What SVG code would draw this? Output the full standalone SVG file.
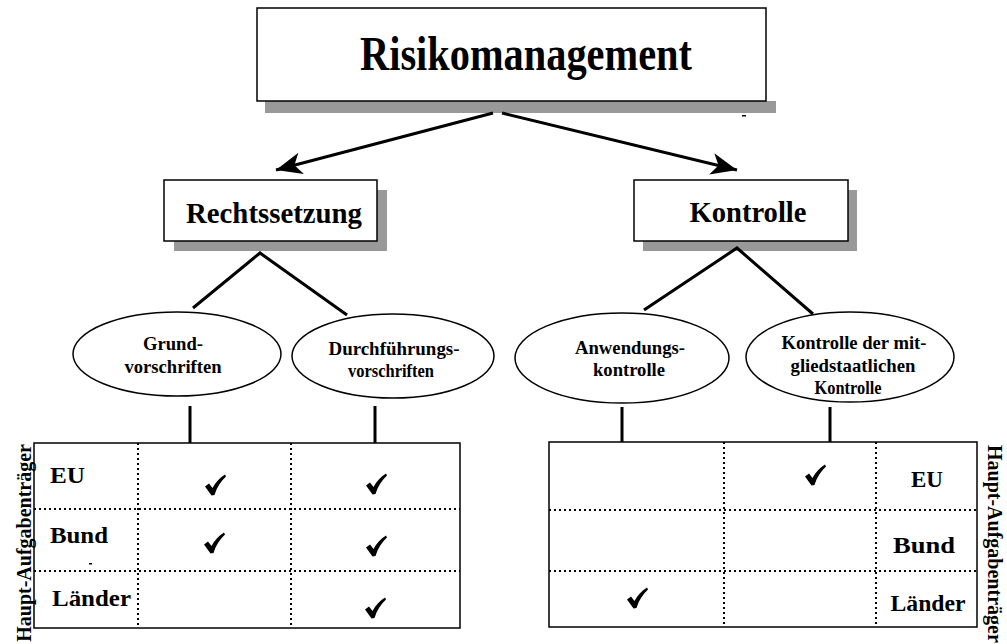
<svg xmlns="http://www.w3.org/2000/svg" width="1007" height="644" viewBox="0 0 1007 644">
  <style>
    .box { fill: #ffffff; stroke: #000000; stroke-width: 1.5; }
    .shadow { fill: #999999; }
    .oval { fill: #ffffff; stroke: #000000; stroke-width: 1.5; }
    .edge { stroke: #000000; stroke-width: 3; fill: none; }
    .grid { fill: #ffffff; stroke: #000000; stroke-width: 1.5; }
    .dots { stroke: #000000; stroke-width: 2; stroke-dasharray: 2 3; fill: none; }
    text { font-family: "Liberation Serif", "Times New Roman", serif; font-weight: bold; fill: #000000; }
    .title { font-size: 48px; text-anchor: middle; }
    .head { font-size: 29px; text-anchor: middle; }
    .small { font-size: 19.5px; text-anchor: middle; }
    .row { font-size: 23px; }
    .side { font-size: 20px; }
  </style>
  <defs>
    <marker id="arrow" markerWidth="28" markerHeight="24" refX="26" refY="12" orient="auto" markerUnits="userSpaceOnUse">
      <path d="M0,1 L26,12 L0,23 L7,12 Z" fill="#000000"/>
    </marker>
    <!-- bold check mark used in the tables -->
    <path id="tick" d="M0,11.5 L4,8.5 L7.5,13 C10.5,7.5 14.5,3 20,-0.5 L21,1.5 C16,6 12,12 9.5,20 L6.5,20.5 Z" fill="#000000"/>
  </defs>

  <!-- top node -->
  <g id="risikomanagement">
    <rect class="shadow" x="265" y="101" width="511" height="12"/>
    <rect class="box" x="257" y="8" width="509" height="93"/>
    <text class="title" x="526" y="70" textLength="332" lengthAdjust="spacingAndGlyphs">Risikomanagement</text>
    <rect x="742" y="115" width="4" height="1.5" fill="#000000"/>
  </g>

  <!-- second level -->
  <g id="rechtssetzung">
    <rect class="shadow" x="174" y="190" width="213" height="61"/>
    <rect class="box" x="164" y="180" width="213" height="61"/>
    <text class="head" x="274" y="223" textLength="176" lengthAdjust="spacingAndGlyphs">Rechtssetzung</text>
  </g>
  <g id="kontrolle">
    <rect class="shadow" x="643" y="190" width="214" height="61"/>
    <rect class="box" x="634" y="180" width="214" height="61"/>
    <text class="head" x="748" y="222" textLength="117" lengthAdjust="spacingAndGlyphs">Kontrolle</text>
  </g>

  <!-- ellipses -->
  <g id="grundvorschriften">
    <ellipse class="oval" cx="177" cy="354" rx="104" ry="42"/>
    <text class="small" x="173" y="350" textLength="60" lengthAdjust="spacingAndGlyphs">Grund-</text>
    <text class="small" x="173" y="373" textLength="97" lengthAdjust="spacingAndGlyphs">vorschriften</text>
  </g>
  <g id="durchfuehrungsvorschriften">
    <ellipse class="oval" cx="393" cy="356" rx="101" ry="42"/>
    <text class="small" x="394" y="355" textLength="131" lengthAdjust="spacingAndGlyphs">Durchführungs-</text>
    <text class="small" x="391" y="377" textLength="86" lengthAdjust="spacingAndGlyphs">vorschriften</text>
  </g>
  <g id="anwendungskontrolle">
    <ellipse class="oval" cx="622" cy="358" rx="107" ry="45"/>
    <text class="small" x="630" y="354" textLength="110" lengthAdjust="spacingAndGlyphs">Anwendungs-</text>
    <text class="small" x="629" y="376" textLength="72" lengthAdjust="spacingAndGlyphs">kontrolle</text>
  </g>
  <g id="kontrolle-mitgliedstaatlich">
    <ellipse class="oval" cx="850" cy="357" rx="104" ry="45"/>
    <text class="small" x="854" y="349" textLength="145" lengthAdjust="spacingAndGlyphs">Kontrolle der mit-</text>
    <text class="small" x="853" y="372" textLength="125" lengthAdjust="spacingAndGlyphs">gliedstaatlichen</text>
    <text class="small" x="848" y="394" textLength="67" lengthAdjust="spacingAndGlyphs">Kontrolle</text>
  </g>

  <!-- connectors -->
  <g id="connectors">
    <line class="edge" x1="493" y1="113" x2="276" y2="170" marker-end="url(#arrow)"/>
    <line class="edge" x1="502" y1="113" x2="737" y2="170" marker-end="url(#arrow)"/>
    <polyline class="edge" points="193,308 260,253 347,315"/>
    <polyline class="edge" points="644,310 737,248 813,314"/>
    <line class="edge" x1="190" y1="406" x2="190" y2="443"/>
    <line class="edge" x1="375" y1="406" x2="375" y2="443"/>
    <line class="edge" x1="622" y1="407" x2="622" y2="442"/>
    <line class="edge" x1="830" y1="407" x2="830" y2="442"/>
  </g>

  <!-- left responsibility table -->
  <g id="table-rechtssetzung">
    <rect class="grid" x="34" y="443" width="426" height="185"/>
    <line class="dots" x1="34" y1="509" x2="460" y2="509"/>
    <line class="dots" x1="34" y1="571" x2="460" y2="571"/>
    <line class="dots" x1="138" y1="443" x2="138" y2="628"/>
    <line class="dots" x1="291" y1="443" x2="291" y2="628"/>
    <text class="row" x="50" y="483" textLength="35" lengthAdjust="spacingAndGlyphs">EU</text>
    <text class="row" x="50" y="543" textLength="58" lengthAdjust="spacingAndGlyphs">Bund</text>
    <text class="row" x="52" y="606" textLength="79" lengthAdjust="spacingAndGlyphs">Länder</text>
    <rect x="89" y="563" width="3" height="1.5" fill="#000000"/>
    <use href="#tick" x="205" y="475"/>
    <use href="#tick" x="366" y="474"/>
    <use href="#tick" x="204" y="533"/>
    <use href="#tick" x="366" y="536"/>
    <use href="#tick" x="365" y="598"/>
    <text class="side" text-anchor="end" transform="translate(31,444) rotate(-90)">Haupt-Aufgabenträger</text>
  </g>

  <!-- right responsibility table -->
  <g id="table-kontrolle">
    <rect class="grid" x="549" y="442" width="428" height="185"/>
    <line class="dots" x1="549" y1="510" x2="977" y2="510"/>
    <line class="dots" x1="549" y1="571" x2="977" y2="571"/>
    <line class="dots" x1="724" y1="442" x2="724" y2="627"/>
    <line class="dots" x1="876" y1="442" x2="876" y2="627"/>
    <text class="row" x="927" y="487" text-anchor="middle" textLength="32" lengthAdjust="spacingAndGlyphs">EU</text>
    <text class="row" x="924" y="553" text-anchor="middle" textLength="62" lengthAdjust="spacingAndGlyphs">Bund</text>
    <text class="row" x="928" y="611" text-anchor="middle" textLength="75" lengthAdjust="spacingAndGlyphs">Länder</text>
    <use href="#tick" x="805" y="465"/>
    <use href="#tick" x="627" y="588"/>
    <text class="side" transform="translate(988,445) rotate(90)">Haupt-Aufgabenträger</text>
  </g>
</svg>
